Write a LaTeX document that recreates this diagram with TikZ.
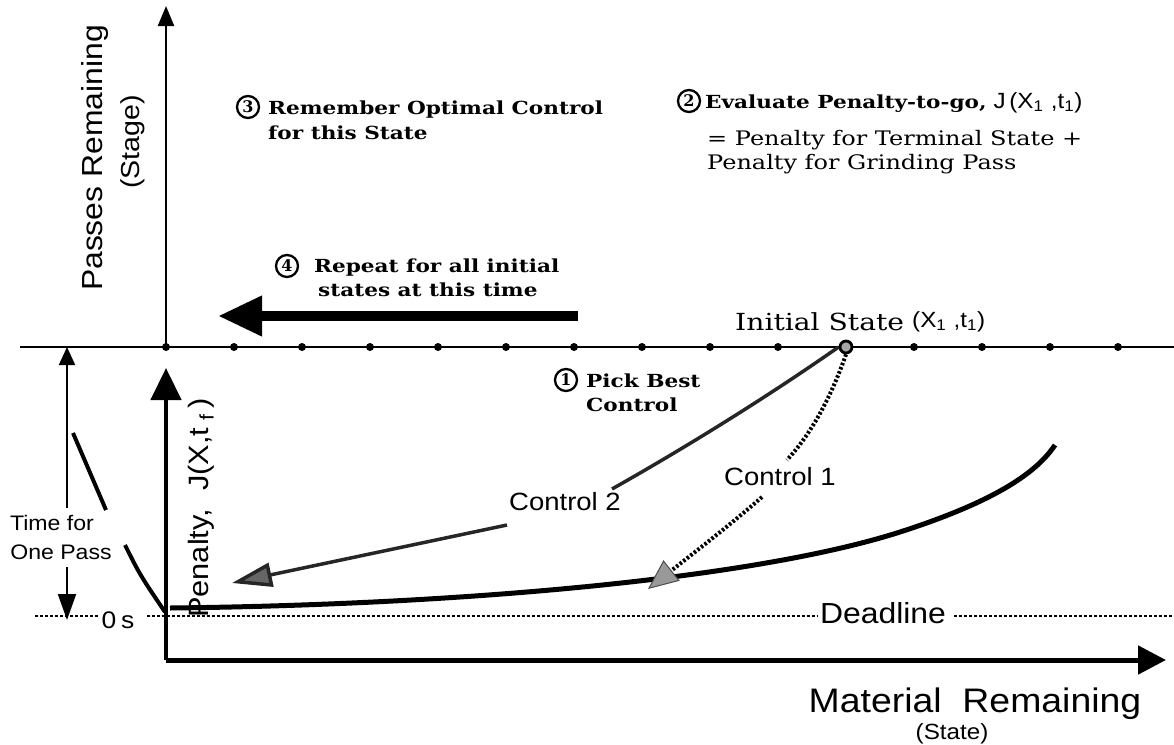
\documentclass[tikz,border=0pt]{standalone}
\usepackage{fontspec}
\setmainfont{DejaVu Serif}
\newfontfamily\bkfont[FakeStretch=1.2]{DejaVu Serif}
\setsansfont[FakeStretch=1.1]{Liberation Sans}
\usetikzlibrary{arrows.meta}
\begin{document}
\begin{tikzpicture}[x=1pt,y=-1pt,
  every node/.style={inner sep=0pt},
  fsans/.style={font=\sffamily\fontsize{#1}{#1}\selectfont},
  fbold/.style={font=\bkfont\bfseries\fontsize{#1}{#1}\selectfont},
  freg/.style={font=\bkfont\fontsize{#1}{#1}\selectfont},
  cnum/.style={circle,draw,line width=2.3pt,inner sep=0pt,minimum size=22pt,font=\bfseries\fontsize{16}{16}\selectfont},
  sdot/.style={circle,fill,inner sep=0pt,minimum size=8pt},
  thinax/.style={line width=2.2pt},
  thickax/.style={line width=4.5pt},
  dl/.style={line width=2pt,dash pattern=on 3pt off 2pt},
]
\useasboundingbox (0,0) rectangle (1174,744);

% ---------- upper diagram: stage axis and time line ----------
\coordinate (O) at (166,347);
\coordinate (Stop) at (166,6);
\draw[thinax,-{Triangle[length=20pt,width=16pt]}] (O) -- (Stop);
\coordinate (Lw) at (20,347);
\coordinate (Le) at (1174,347);
\draw[thinax] (Lw) -- (Le);
\foreach \i in {0,...,9,11,12,13,14}
  \node[sdot] (d\i) at (166+68*\i,347) {};
\node[circle,draw,line width=2.8pt,fill=black!35,minimum size=12pt] (init) at (846,347) {};

\node[fsans=29,rotate=90,anchor=base] (passes) at (102,158) {Passes Remaining};
\node[fsans=26,rotate=90,anchor=base] (stage) at (139,142) {(Stage)};

% step 3
\node[cnum] (c3) at (248,107) {3};
\node[fbold=18,anchor=base west] (r1) at (268,114) {Remember Optimal Control};
\node[fbold=18,anchor=base west] (r2) at (268,139) {for this State};

% step 2
\node[cnum] (c2) at (689,101) {2};
\node[fbold=18,anchor=base west] (e1) at (705,108) {Evaluate Penalty-to-go,};
\node[fsans=22,anchor=base west] (e2) at (e1.base east) {\ J\,(X\textsubscript{1}\,\,,t\textsubscript{1})};
\node[freg=20,anchor=base west] (e3) at (707,145) {= Penalty for Terminal State +};
\node[freg=20,anchor=base west] (e4) at (707,169) {Penalty for Grinding Pass};

% step 4
\node[cnum] (c4) at (287,266) {4};
\node[fbold=18,anchor=base west] (p1) at (314,272) {Repeat for all initial};
\node[fbold=18,anchor=base west] (p2) at (318,296) {states at this time};
\coordinate (RAs) at (578,316);
\coordinate (RAe) at (218,316);
\draw[line width=10pt,-{Triangle[length=44pt,width=38pt]}] (RAs) -- (RAe);

% initial state
\node[freg=23.5,anchor=base west] (ist) at (735,330) {Initial State};
\node[fsans=22,anchor=base west] (ixt) at (912,327) {(X\textsubscript{1}\,\,,t\textsubscript{1})};

% ---------- lower diagram ----------
\coordinate (P0) at (166,660);
\coordinate (Ptop) at (166,368);
\coordinate (Mend) at (1166,660);
\draw[thickax,-{Triangle[length=32pt,width=30pt]}] (P0) -- (Ptop);
\draw[line width=5pt,-{Triangle[length=28pt,width=28pt]}] (P0) -- (Mend);

\node[fsans=28,rotate=90,anchor=base west] (pen) at (208,618) {Penalty,\hspace{18pt}J(X,t\hspace{7pt}\textsubscript{f}\hspace{6pt})};

% deadline
\node[fsans=24] (zero) at (118,620) {0\hspace{5pt}s};
\node[fsans=29] (dead) at (883,613) {Deadline};
\coordinate (DLw) at (35,616);
\coordinate (DLe) at (1172,616);
\draw[dl] (DLw) -- ([xshift=-2pt]DLw -| zero.west);
\draw[dl] ([xshift=12pt]DLw -| zero.east) -- ([xshift=-2pt]DLw -| dead.west);
\draw[dl] ([xshift=8pt]DLw -| dead.east) -- (DLe);

% time for one pass
\node[fsans=21] (tf1) at (52,523) {Time for};
\node[fsans=21] (tf2) at (61,552) {One Pass};
\coordinate (Ta) at (67,508);
\coordinate (Tb) at (67,347);
\coordinate (Tc) at (67,567);
\coordinate (Td) at (67,620);
\draw[line width=2pt,-{Triangle[length=18pt,width=16pt]}] (Ta) -- (Tb);
\draw[line width=2pt,-{Triangle[length=26pt,width=18pt]}] (Tc) -- (Td);
\coordinate (Ga) at (73,433);
\coordinate (Gb) at (106,510);
\coordinate (Gc) at (125,545);
\coordinate (Gd) at (165,612);
\draw[line width=4pt] (Ga) -- (Gb);
\draw[line width=4pt] (Gc) .. controls (140,575) .. (Gd);

% penalty curve
\coordinate (J0) at (170,608);
\coordinate (J1) at (900,532);
\coordinate (J2) at (1055,445);
\draw[line width=5pt] (J0) .. controls (450,605) and (750,580) .. (J1)
  .. controls (990,503) and (1035,475) .. (J2);

% control 2
\node[fsans=25] (ctl2) at (565,502) {Control 2};
\coordinate (C2a) at (612,489);
\coordinate (C2b) at (507,525);
\coordinate (C2tip) at (232,583);
\draw[line width=3.5pt,black!85] (init.west) .. controls (770,395) and (690,445) .. (C2a);
\draw[line width=3.5pt,black!85,-{Triangle[length=40pt,width=24pt,fill=black!60]}] (C2b) -- (C2tip);

% control 1
\node[fsans=25] (ctl1) at (780,477) {Control 1};
\coordinate (C1a) at (787,460);
\coordinate (C1b) at (762,497);
\coordinate (C1tip) at (648,589);
\draw[line width=4pt,dash pattern=on 2.5pt off 2pt] (init.south) .. controls (830,400) and (810,435) .. (C1a);
\draw[line width=4pt,dash pattern=on 2.5pt off 2pt,-{Triangle[length=30pt,width=26pt,fill=black!40,color=black!70,line width=1pt]}] (C1b) .. controls (730,525) and (700,548) .. (C1tip);

% step 1
\node[cnum] (c1) at (566,380) {1};
\node[fbold=18,anchor=base west] (b1) at (586,387) {Pick Best};
\node[fbold=18,anchor=base west] (b2) at (586,411) {Control};

% material axis label
\node[fsans=34,anchor=base] (mat) at (975,712) {Material\ \ Remaining};
\node[fsans=22,anchor=base] (state) at (952,739) {(State)};
\end{tikzpicture}
\end{document}
